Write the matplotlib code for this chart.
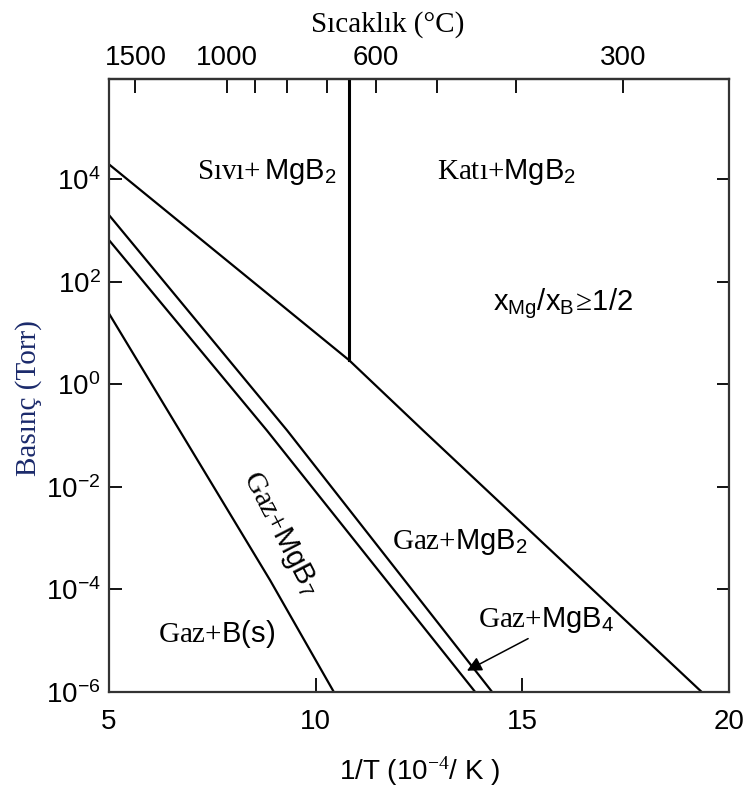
import numpy as np
import matplotlib
matplotlib.use("Agg")
import matplotlib.pyplot as plt
from matplotlib.ticker import FixedLocator

plt.rcParams.update({
    "font.family": "Liberation Sans",
    "mathtext.fontset": "custom",
    "mathtext.rm": "Liberation Serif",
    "mathtext.sf": "Liberation Sans",
    "mathtext.it": "Liberation Sans:italic",
    "mathtext.bf": "Liberation Sans:bold",
    "axes.unicode_minus": False,
})

# Phase boundaries: inverse temperature (10^-4 / K) against pressure (Torr)
mg_vapor_x = [5.0, 10.81, 12.6, 19.34]
mg_vapor_p = [1.95e4, 2.95, 0.126, 1e-6]
mgb2_mgb4_x = [5.0, 9.31, 14.27]
mgb2_mgb4_p = [2.0e3, 0.126, 1e-6]
mgb4_mgb7_x = [5.0, 8.82, 13.86]
mgb4_mgb7_p = [650.0, 0.126, 1e-6]
mgb7_b_x = [5.0, 8.90, 10.44]
mgb7_b_p = [24.0, 1.5e-4, 1e-6]

# Mg melting point (liquid / solid boundary)
mg_melt_x = 10.81
mg_melt_p = 2.95

x_ticks = [5, 10, 15, 20]
y_ticks = [1e-6, 1e-4, 1e-2, 1e0, 1e2, 1e4]
temp_major = [1500, 1000, 600, 300]
temp_minor = [900, 800, 700, 500, 400]

x_range = (5, 20)
p_range = (1e-6, 9e5)

fig = plt.figure(figsize=(7.45, 7.96), dpi=100)
ax = fig.add_axes([109 / 745, 1 - 692 / 796, 620 / 745, 613 / 796])

line_kw = dict(color="black", lw=1.6, solid_capstyle="butt")
ax.plot(mg_vapor_x, mg_vapor_p, **line_kw)
ax.plot(mgb2_mgb4_x, mgb2_mgb4_p, **line_kw)
ax.plot(mgb4_mgb7_x, mgb4_mgb7_p, **line_kw)
ax.plot(mgb7_b_x, mgb7_b_p, **line_kw)
ax.plot([mg_melt_x, mg_melt_x], [mg_melt_p, p_range[1]], color="black", lw=2.2)

ax.set_yscale("log")
ax.set_xlim(*x_range)
ax.set_ylim(*p_range)
ax.set_xticks(x_ticks)
ax.set_xticklabels([str(v) for v in x_ticks])
ax.set_yticks(y_ticks)
ax.yaxis.set_minor_locator(FixedLocator([]))
ax.tick_params(axis="x", which="both", direction="in", length=10, width=1.3,
               labelsize=20, pad=12, top=False)
ax.tick_params(axis="y", which="both", direction="in", length=9, width=1.3,
               labelsize=20, pad=6, right=True)
for s in ax.spines.values():
    s.set_linewidth(1.6)
    s.set_color("#333333")

ax.set_xlabel("1/T (10$^{-4}$/ K )", fontsize=20, labelpad=14)
ax.set_ylabel("Basınç (Torr)", fontsize=21, family="Liberation Serif",
              color="#1b2a6b", labelpad=3, y=0.48)


def to_celsius(x):
    x = np.asarray(x, dtype=float)
    with np.errstate(divide="ignore", invalid="ignore"):
        return 1e4 / x - 273.15


def to_inverse(c):
    c = np.asarray(c, dtype=float)
    with np.errstate(divide="ignore", invalid="ignore"):
        return 1e4 / (c + 273.15)


top = ax.secondary_xaxis("top", functions=(to_celsius, to_inverse))
top.set_xticks(temp_major)
top.set_xticklabels([str(v) for v in temp_major])
top.xaxis.set_minor_locator(FixedLocator(temp_minor))
top.tick_params(which="both", direction="in", length=10, width=1.3,
                labelsize=20, pad=6)
top.spines["top"].set_linewidth(1.6)
top.spines["top"].set_color("#333333")
top.set_xlabel("Sıcaklık (°C)", fontsize=21, family="Liberation Serif",
               labelpad=9, x=0.45)

lab = dict(fontsize=21, ha="left", va="center")
ax.text(7.13, 1.4e4, r"$\mathrm{Sıvı{+}}\,\mathsf{MgB_2}$", **lab)
ax.text(12.94, 1.4e4, r"$\mathrm{Katı{+}}\mathsf{MgB_2}$", **lab)
ax.text(14.29, 38, r"$\mathsf{x_{Mg}/x_{B}}\!\geq\!\mathsf{1/2}$", **lab)
ax.text(11.85, 8.3e-4, r"$\mathrm{Gaz{+}}\mathsf{MgB_2}$", **lab)
ax.text(6.19, 1.38e-5, r"$\mathrm{Gaz{+}}\mathsf{B(s)}$", **lab)
ax.text(13.93, 2.5e-5, r"$\mathrm{Gaz{+}}\mathsf{MgB_4}$", **lab)
ax.text(9.16, 1.23e-3, r"$\mathrm{Gaz{+}}\mathsf{MgB_7}$", fontsize=21,
        ha="center", va="center", rotation=-62.7, rotation_mode="anchor")

ax.annotate("", xy=(13.66, 2.6e-6), xytext=(15.14, 1.1e-5),
            arrowprops=dict(arrowstyle="-|>", color="black", lw=1.1,
                            mutation_scale=22, shrinkA=0, shrinkB=0))

fig.savefig("out.png", dpi=100)
